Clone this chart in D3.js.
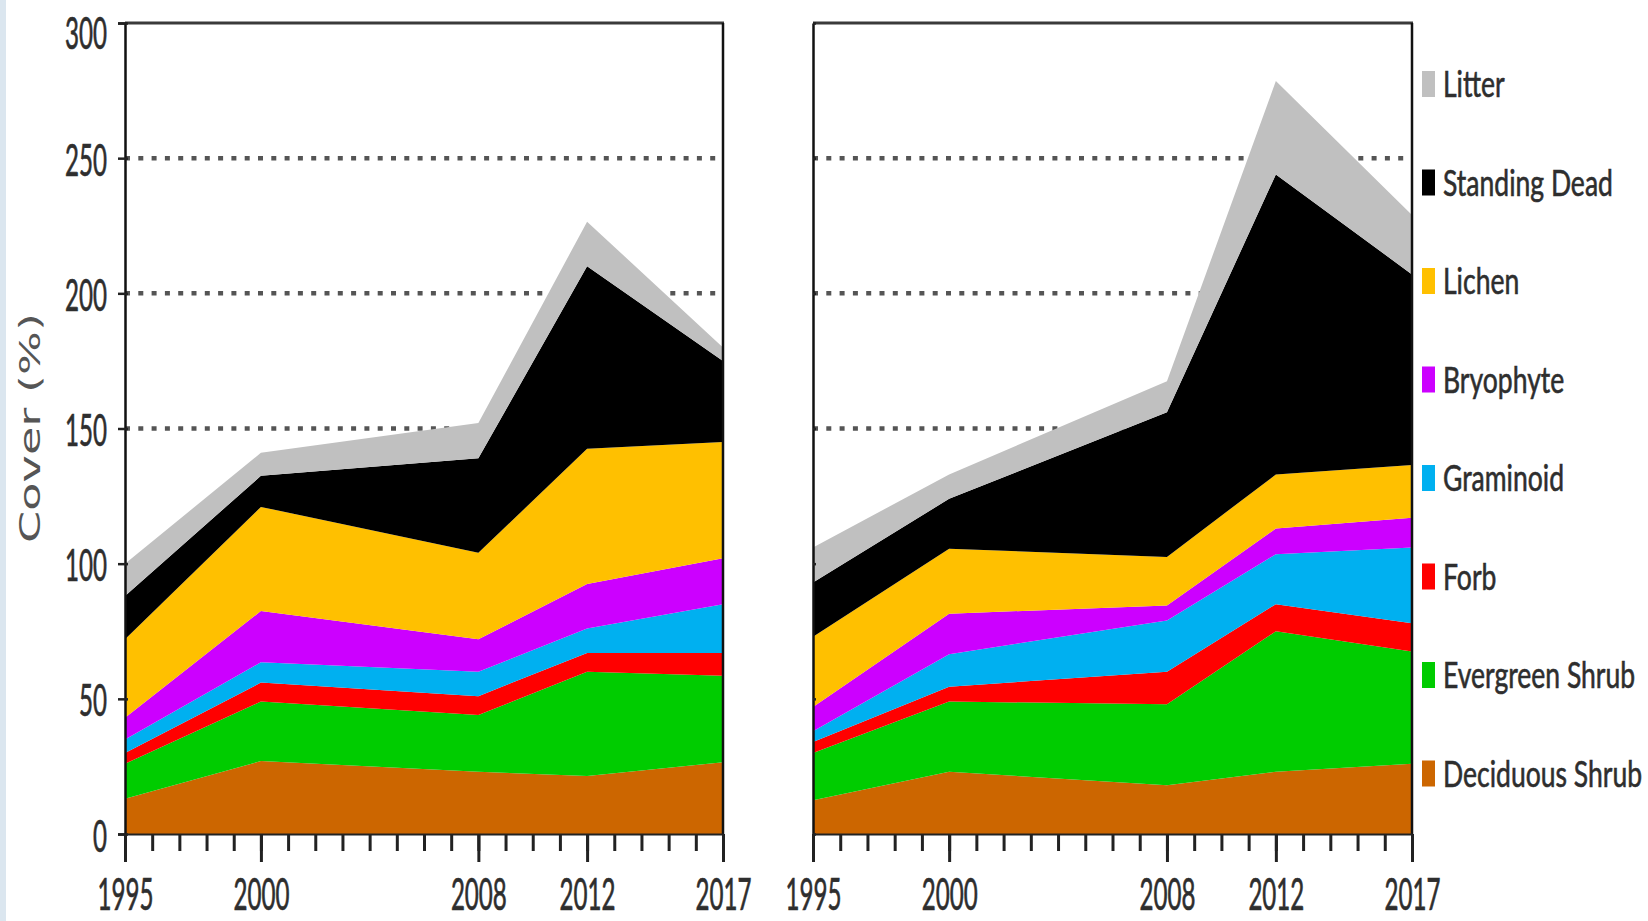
<!DOCTYPE html>
<html>
<head>
<meta charset="utf-8">
<script src="https://cdn.jsdelivr.net/npm/d3@7"></script>
<style>
  html, body { margin: 0; padding: 0; background: #fff; }
  svg { display: block; }
</style>
</head>
<body>
<svg id="chart" width="1648" height="921"></svg>
<script>
// Survey years with data and the cover categories (bottom of the stack first)
const years = [1995, 2000, 2008, 2012, 2017];
const categories = ["Deciduous Shrub", "Evergreen Shrub", "Forb", "Graminoid",
                    "Bryophyte", "Lichen", "Standing Dead", "Litter"];
const colors = ["#CC6600", "#00CC00", "#FF0000", "#00B0F0",
                "#CC00FF", "#FFC000", "#000000", "#C0C0C0"];

// Left panel: cover (%) per category and year
const deciduousA    = [13,   27,   23,   21.5, 26.5];
const evergreenA    = [13,   22,   21,   38.5, 32];
const forbA         = [4,    7,    7,    7,    8.5];
const graminoidA    = [5,    7.5,  9,    9,    18];
const bryophyteA    = [8,    19,   12,   16.5, 17];
const lichenA       = [29,   38.5, 32,   50,   43];
const standingDeadA = [16,   11.5, 35,   67.5, 30];
const litterA       = [12,   8.5,  13,   16.5, 5];

// Right panel: cover (%) per category and year
const deciduousB    = [12.5, 23,   18,   23,   26];
const evergreenB    = [17.5, 26,   30,   52,   41.5];
const forbB         = [4,    5.5,  12,   10,   10.5];
const graminoidB    = [4,    12,   19,   18.5, 28];
const bryophyteB    = [9,    15,   5.5,  9.5,  11];
const lichenB       = [26,   24,   18,   20,   19.5];
const standingDeadB = [20,   18.5, 53.5, 111,  70.5];
const litterB       = [13,   9,    11.5, 34.5, 22];

// Axis ticks
const yTickValues = [0, 50, 100, 150, 200, 250, 300];
const gridValues = [150, 200, 250];
const minorYears = d3.range(1995, 2018);

const svg = d3.select("#chart");
const FONT = "Lato, 'Open Sans', sans-serif";
const INK = "#2e2e2e";

// faint strip along the left edge of the figure
svg.append("rect").attr("x", 0).attr("y", 0).attr("width", 6).attr("height", 921)
  .attr("fill", "#dbe6ef");

const y = d3.scaleLinear().domain([0, 300]).range([834, 23]);

// measure a label to get a horizontal squeeze factor for the condensed lettering
function squeezeFor(text, size, target) {
  const t = svg.append("text").attr("font-family", FONT).attr("font-size", size).text(text);
  const w = t.node().getComputedTextLength();
  t.remove();
  return target / w;
}
const tickSize = 44;
const sxTick = squeezeFor("1995", tickSize, 56);
const legendSize = 36;
const sxLegend = squeezeFor("Standing Dead", legendSize, 170);

function rowsFrom(series) {
  return years.map((yr, i) => {
    const r = { year: yr };
    categories.forEach((c, k) => { r[c] = series[k][i]; });
    return r;
  });
}

const panels = [
  { range: [125, 723],
    series: [deciduousA, evergreenA, forbA, graminoidA, bryophyteA, lichenA, standingDeadA, litterA],
    yLabels: true },
  { range: [813, 1412],
    series: [deciduousB, evergreenB, forbB, graminoidB, bryophyteB, lichenB, standingDeadB, litterB],
    yLabels: false }
];

panels.forEach(p => {
  const x = d3.scaleLinear().domain([1995, 2017]).range(p.range);
  const g = svg.append("g");

  // dotted horizontal gridlines (behind the areas)
  g.selectAll("line.grid").data(gridValues).join("line")
    .attr("class", "grid")
    .attr("x1", x(1995)).attr("x2", x(2017))
    .attr("y1", d => y(d)).attr("y2", d => y(d))
    .attr("stroke", "#555").attr("stroke-width", 4.5)
    .attr("stroke-dasharray", "5 8.3");

  // stacked areas
  const stacked = d3.stack().keys(categories)(rowsFrom(p.series));
  const area = d3.area()
    .x(d => x(d.data.year))
    .y0(d => y(d[0]))
    .y1(d => y(d[1]));
  g.selectAll("path.layer").data(stacked).join("path")
    .attr("class", "layer")
    .attr("d", area)
    .attr("fill", (d, i) => colors[i]);

  // frame: top and right edges
  g.append("line").attr("x1", x(1995)).attr("x2", x(2017) + 1)
    .attr("y1", y(300)).attr("y2", y(300))
    .attr("stroke", "#3a3a3a").attr("stroke-width", 3);
  g.append("line").attr("x1", x(2017)).attr("x2", x(2017))
    .attr("y1", y(300)).attr("y2", y(0))
    .attr("stroke", "#111").attr("stroke-width", 2.5);

  // left axis
  const yAxis = d3.axisLeft(y).tickValues(yTickValues).tickSizeOuter(0)
    .tickSize(p.yLabels ? 7 : 0)
    .tickFormat(p.yLabels ? d3.format("d") : "");
  const ya = g.append("g").attr("transform", `translate(${x(1995)},0)`).call(yAxis);
  ya.select(".domain").attr("stroke", "#111").attr("stroke-width", 2.5);
  ya.selectAll(".tick line").attr("stroke", "#222").attr("stroke-width", 2.5).attr("x1", 3);
  // labels sit a little below their tick; the top one is kept inside the figure
  ya.selectAll(".tick text")
    .attr("font-family", FONT).attr("font-size", tickSize).attr("fill", INK)
    .attr("stroke", INK).attr("stroke-width", 0.7)
    .attr("x", -18 / sxTick)
    .attr("dy", 0)
    .attr("y", d => Math.max(17, 48 - y(d)))
    .attr("transform", `scale(${sxTick},1)`);

  // minor year ticks
  const minor = d3.axisBottom(x).tickValues(minorYears).tickSize(17).tickSizeOuter(0).tickFormat("");
  const xm = g.append("g").attr("transform", `translate(0,${y(0)})`).call(minor);
  xm.select(".domain").attr("stroke", "#222").attr("stroke-width", 2);
  xm.selectAll(".tick line").attr("stroke", "#222").attr("stroke-width", 3);

  // labelled year ticks
  const major = d3.axisBottom(x).tickValues(years).tickSize(28).tickSizeOuter(0)
    .tickFormat(d3.format("d"));
  const xa = g.append("g").attr("transform", `translate(0,${y(0)})`).call(major);
  xa.select(".domain").remove();
  xa.selectAll(".tick line").attr("stroke", "#222").attr("stroke-width", 3);
  xa.selectAll(".tick text")
    .attr("font-family", FONT).attr("font-size", tickSize).attr("fill", INK)
    .attr("stroke", INK).attr("stroke-width", 0.7)
    .attr("y", 76).attr("dy", 0)
    .attr("transform", `scale(${sxTick},1)`);
});

// y axis title
svg.append("text")
  .attr("transform", "translate(40,428) rotate(-90)")
  .attr("text-anchor", "middle")
  .attr("font-family", "'DejaVu Sans', Verdana, sans-serif")
  .attr("font-size", 28)
  .attr("fill", "#555")
  .attr("textLength", 230)
  .attr("lengthAdjust", "spacingAndGlyphs")
  .text("Cover (%)");

// legend, top entry is the top of the stack
const legendOrder = categories.map((c, i) => ({ name: c, color: colors[i] })).reverse();
const legend = svg.append("g");
const rows = legend.selectAll("g").data(legendOrder).join("g")
  .attr("transform", (d, i) => `translate(1422,${84 + i * 98.5})`);
rows.append("rect")
  .attr("x", 0).attr("y", -13).attr("width", 13).attr("height", 26)
  .attr("fill", d => d.color);
rows.append("text")
  .attr("transform", `translate(21,13) scale(${sxLegend},1)`)
  .attr("font-family", FONT).attr("font-size", legendSize).attr("fill", INK)
  .attr("stroke", INK).attr("stroke-width", 0.6)
  .text(d => d.name);
</script>
</body>
</html>
